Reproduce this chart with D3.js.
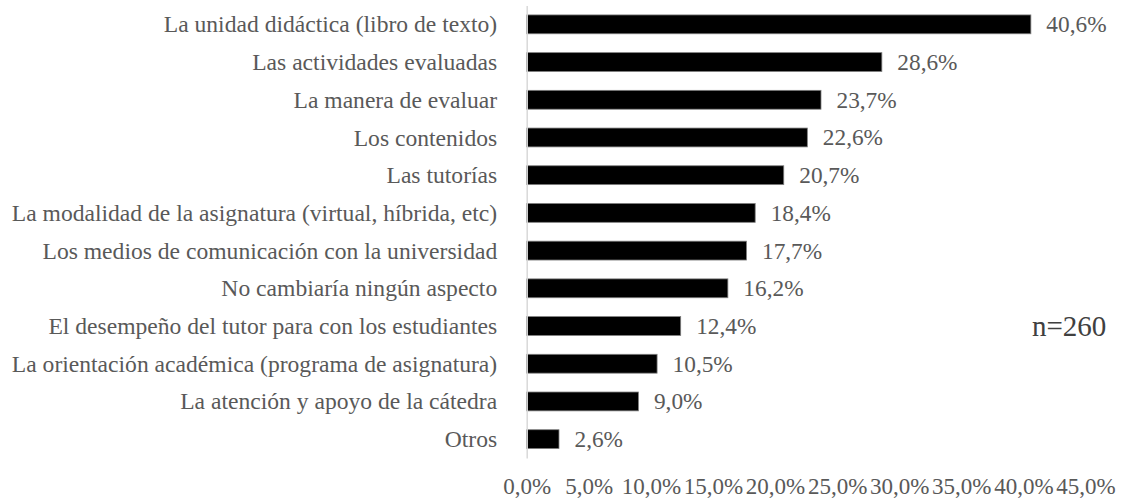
<!DOCTYPE html>
<html>
<head>
<meta charset="utf-8">
<script src="https://cdn.jsdelivr.net/npm/d3@7"></script>
<style>
  html, body { margin: 0; padding: 0; background: #fff; }
  svg { display: block; }
</style>
</head>
<body>
<svg id="chart" width="1121" height="500"></svg>
<script>
const categories = [
  "La unidad didáctica (libro de texto)",
  "Las actividades evaluadas",
  "La manera de evaluar",
  "Los contenidos",
  "Las tutorías",
  "La modalidad de la asignatura (virtual, híbrida, etc)",
  "Los medios de comunicación con la universidad",
  "No cambiaría ningún aspecto",
  "El desempeño del tutor para con los estudiantes",
  "La orientación académica (programa de asignatura)",
  "La atención y apoyo de la cátedra",
  "Otros"
];
const values = [40.6, 28.6, 23.7, 22.6, 20.7, 18.4, 17.7, 16.2, 12.4, 10.5, 9.0, 2.6];
const tickValues = [0, 5, 10, 15, 20, 25, 30, 35, 40, 45];
const annotation = "n=260";

const FONT = "Liberation Serif";
const locale = d3.formatLocale({decimal: ",", thousands: ".", grouping: [3], currency: ["", "€"]});
const fmt = d => locale.format(".1f")(d) + "%";

const svg = d3.select("#chart");
const x = d3.scaleLinear().domain([0, 45]).range([526.7, 1085.5]);
const y = d3.scaleBand().domain(categories).range([5.5, 458]).paddingInner(0.5).paddingOuter(0.25);

// bars
svg.append("g").selectAll("rect").data(values).join("rect")
  .attr("x", x(0))
  .attr("y", (d, i) => y(categories[i]))
  .attr("width", d => x(d) - x(0))
  .attr("height", y.bandwidth())
  .attr("fill", "#000")
  .attr("stroke", "#7f7f7f")
  .attr("stroke-width", 0.8);

// category axis
const yAxis = svg.append("g").attr("transform", `translate(${x(0)},0)`)
  .call(d3.axisLeft(y).tickSizeInner(0).tickSizeOuter(0).tickPadding(29.5));
yAxis.select(".domain").attr("stroke", "#d9d9d9").attr("stroke-width", 1.5);
yAxis.selectAll("text")
  .style("font-family", FONT)
  .style("font-size", "23.6px")
  .attr("fill", "#595959")
  .attr("dy", "0.34em");

// value labels
svg.append("g").selectAll("text").data(values).join("text")
  .attr("x", d => x(d) + 15.5)
  .attr("y", (d, i) => y(categories[i]) + y.bandwidth() / 2)
  .attr("dy", "0.34em")
  .style("font-family", FONT)
  .style("font-size", "23.3px")
  .attr("fill", "#595959")
  .text(d => fmt(d));

// x axis tick labels
const xAxis = svg.append("g").attr("transform", "translate(0,477)")
  .call(d3.axisBottom(x).tickValues(tickValues).tickFormat(fmt).tickSize(0).tickPadding(0));
xAxis.select(".domain").remove();
xAxis.selectAll("text")
  .style("font-family", FONT)
  .style("font-size", "23px")
  .attr("fill", "#595959")
  .attr("dy", "0.72em");

// annotation
svg.append("text")
  .attr("x", 1032)
  .attr("y", 336)
  .style("font-family", FONT)
  .style("font-size", "29px")
  .attr("fill", "#404040")
  .text(annotation);
</script>
</body>
</html>
